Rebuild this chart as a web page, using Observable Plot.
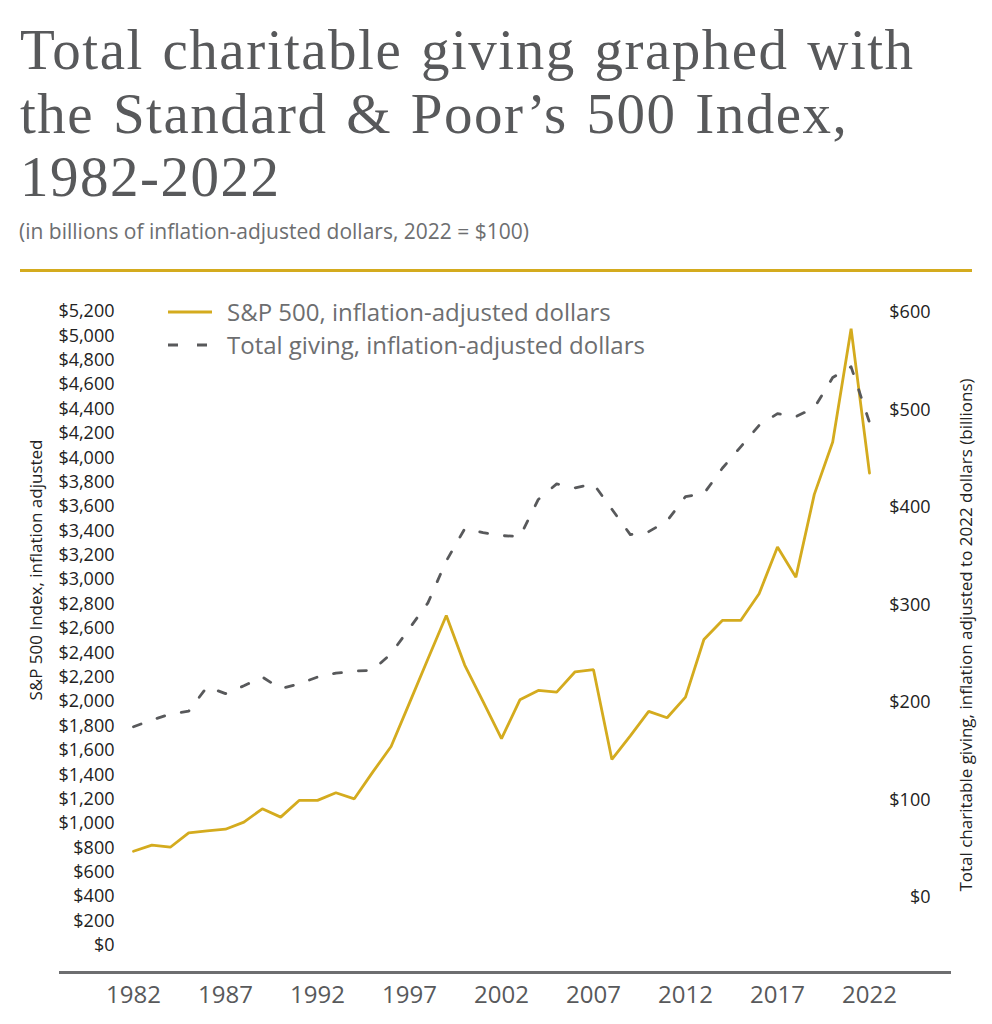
<!DOCTYPE html>
<html>
<head>
<meta charset="utf-8">
<script src="https://cdn.jsdelivr.net/npm/d3@7"></script>
<script src="https://cdn.jsdelivr.net/npm/@observablehq/plot@0.6"></script>
<style>
  html, body { margin: 0; padding: 0; background: #fff; }
  body { width: 992px; height: 1024px; position: relative; overflow: hidden; }
  #title { position: absolute; left: 20px; top: 18px; font-family: "Liberation Serif", serif; font-size: 57px; line-height: 63.5px; letter-spacing: 1.5px; word-spacing: 3px; color: #58595b; white-space: nowrap; }
  #subtitle { position: absolute; left: 19px; top: 217px; font-family: "Open Sans", sans-serif; font-size: 21px; color: #6d6e70; white-space: nowrap; }
  #rule { position: absolute; left: 20px; top: 269px; width: 952px; height: 3px; background: #d4ab1e; }
  #chart { position: absolute; left: 0; top: 280px; width: 992px; height: 744px; }
  #chart svg { position: absolute; left: 0; top: 0; }
  .legend { position: absolute; left: 168px; font-family: "Open Sans", sans-serif; font-size: 24px; color: #6d6e70; white-space: nowrap; display: flex; align-items: center; }
  .legend svg { margin-right: 15px; }
  .ytitle { position: absolute; font-family: "Open Sans", sans-serif; font-size: 17px; color: #222; white-space: nowrap; transform: translate(-50%, -50%) rotate(-90deg); }
</style>
</head>
<body>
<div id="title">Total charitable giving graphed with<br>the Standard &amp; Poor’s 500 Index,<br>1982-2022</div>
<div id="subtitle">(in billions of inflation-adjusted dollars, 2022 = $100)</div>
<div id="rule"></div>
<div id="chart"></div>
<div class="legend" style="top:295px"><svg width="44" height="6"><line x1="0" x2="44" y1="3" y2="3" stroke="#d4ab1e" stroke-width="3"/></svg>S&amp;P 500, inflation-adjusted dollars</div>
<div class="legend" style="top:328px"><svg width="44" height="6"><line x1="0" x2="44" y1="3" y2="3" stroke="#58595b" stroke-width="3" stroke-dasharray="10,19"/></svg>Total giving, inflation-adjusted dollars</div>
<div class="ytitle" style="left:35px; top:570px">S&amp;P 500 Index, inflation adjusted</div>
<div class="ytitle" style="left:965px; top:635px">Total charitable giving, inflation adjusted to 2022 dollars (billions)</div>
<script>
const years = d3.range(1982, 2023);
const sp500 = [773, 823, 806, 924, 941, 954, 1012, 1121, 1053, 1190, 1190, 1253, 1203, 1422, 1632, 1990, 2350, 2707, 2300, 2000, 1696, 2015, 2092, 2078, 2245, 2262, 1526, 1720, 1920, 1868, 2037, 2510, 2666, 2666, 2885, 3268, 3021, 3700, 4129, 5059, 3874];
const giving = [175, 182, 188, 191, 216, 209, 217, 226, 214, 219, 226, 230, 232, 233, 250, 276, 302, 345, 378, 374, 371, 370, 408, 424, 420, 424, 398, 372, 375, 386, 411, 414, 440, 462, 484, 496, 493, 502, 533, 544, 487];
const leftTicks = d3.range(0, 5201, 200);
const rightTicks = d3.range(0, 601, 100);
const xTicks = d3.range(1982, 2023, 5);

const spData = years.map((y, i) => ({year: y, value: sp500[i]}));
const givingData = years.map((y, i) => ({year: y, value: giving[i]}));
const fmt = d => "$" + d3.format(",")(d);

const W = 992, H = 744;
const xDomain = [1982, 2022], xRange = [133, 869];

const p1 = Plot.plot({
  width: W, height: H,
  marginLeft: 118, marginRight: 43, marginTop: 20, marginBottom: 52,
  style: {fontFamily: '"Open Sans", sans-serif', background: "transparent", overflow: "visible"},
  x: {domain: xDomain, range: xRange, axis: null},
  y: {domain: [0, 5200], range: [665, 31]},
  marks: [
    Plot.axisY({ticks: leftTicks, tickSize: 0, tickPadding: 4, tickFormat: fmt, fontSize: 18, color: "#222", label: null}),
    Plot.line(spData, {x: "year", y: "value", stroke: "#d4ab1e", strokeWidth: 2.8, strokeLinejoin: "miter"})
  ]
});

const p2 = Plot.plot({
  width: W, height: H,
  marginLeft: 60, marginRight: 43, marginTop: 20, marginBottom: 52,
  style: {fontFamily: '"Open Sans", sans-serif', background: "transparent", overflow: "visible"},
  x: {domain: xDomain, range: xRange},
  y: {domain: [0, 600], range: [617, 31.7]},
  marks: [
    Plot.frame({anchor: "bottom", stroke: "#6d6e70", strokeWidth: 3}),
    Plot.axisX({ticks: xTicks, tickSize: 0, tickPadding: 13, tickFormat: d => String(d), fontSize: 24, color: "#58595b", label: null}),
    Plot.axisY({anchor: "right", ticks: rightTicks, tickSize: 0, tickPadding: 0, dx: -19, textAnchor: "end", tickFormat: fmt, fontSize: 18, color: "#222", label: null}),
    Plot.line(givingData, {x: "year", y: "value", stroke: "#58595b", strokeWidth: 2.8, strokeDasharray: "8,17"})
  ]
});

document.getElementById("chart").append(p1, p2);
</script>
</body>
</html>
